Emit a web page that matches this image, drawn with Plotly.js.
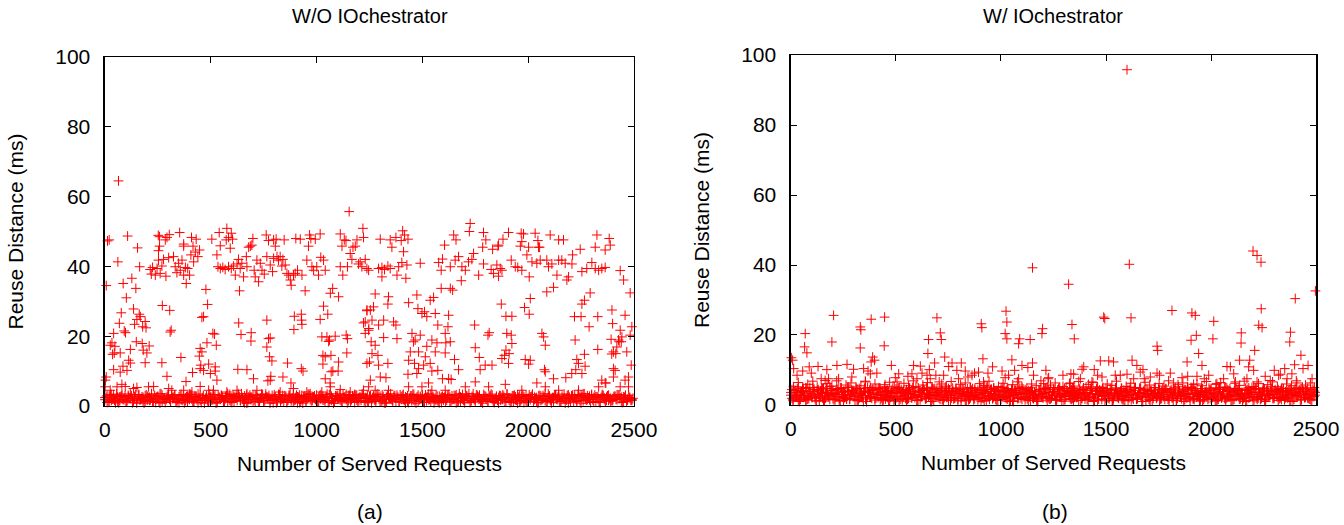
<!DOCTYPE html>
<html><head><meta charset="utf-8">
<script src="https://cdn.plot.ly/plotly-3.0.1.min.js"></script>
<style>html,body{margin:0;padding:0;background:#fff}#chart{width:1344px;height:525px}</style>
</head><body><div id="chart"></div>
<script>
// ---- tick labels / titles ----
const xTicks = [0, 500, 1000, 1500, 2000, 2500];
const yTicks = [0, 20, 40, 60, 80, 100];
const titleA = "W/O IOchestrator";
const titleB = "W/ IOchestrator";
const xLabel = "Number of Served Requests";
const yLabel = "Reuse Distance (ms)";

// ---- dense band request indices ----
const bandX1 = [0,10,20,30,40,50,60,70,80,90,100,110,120,130,140,150,160,170,180,190,200,210,220,230,240,
250,260,270,280,290,300,310,320,330,340,350,360,370,380,390,400,410,420,430,440,450,460,470,480,490,
500,510,520,530,540,550,560,570,580,590,600,610,620,630,640,650,660,670,680,690,700,710,720,730,740,
750,760,770,780,790,800,810,820,830,840,850,860,870,880,890,900,910,920,930,940,950,960,970,980,990,
1000,1010,1020,1030,1040,1050,1060,1070,1080,1090,1100,1110,1120,1130,1140,1150,1160,1170,1180,1190,1200,1210,1220,1230,1240,
1250,1260,1270,1280,1290,1300,1310,1320,1330,1340,1350,1360,1370,1380,1390,1400,1410,1420,1430,1440,1450,1460,1470,1480,1490,
1500,1510,1520,1530,1540,1550,1560,1570,1580,1590,1600,1610,1620,1630,1640,1650,1660,1670,1680,1690,1700,1710,1720,1730,1740,
1750,1760,1770,1780,1790,1800,1810,1820,1830,1840,1850,1860,1870,1880,1890,1900,1910,1920,1930,1940,1950,1960,1970,1980,1990,
2000,2010,2020,2030,2040,2050,2060,2070,2080,2090,2100,2110,2120,2130,2140,2150,2160,2170,2180,2190,2200,2210,2220,2230,2240,
2250,2260,2270,2280,2290,2300,2310,2320,2330,2340,2350,2360,2370,2380,2390,2400,2410,2420,2430,2440,2450,2460,2470,2480,2490];
const bandX2 = [5,15,25,35,45,55,65,75,85,95,105,115,125,135,145,155,165,175,185,195,205,215,225,235,245,
255,265,275,285,295,305,315,325,335,345,355,365,375,385,395,405,415,425,435,445,455,465,475,485,495,
505,515,525,535,545,555,565,575,585,595,605,615,625,635,645,655,665,675,685,695,705,715,725,735,745,
755,765,775,785,795,805,815,825,835,845,855,865,875,885,895,905,915,925,935,945,955,965,975,985,995,
1005,1015,1025,1035,1045,1055,1065,1075,1085,1095,1105,1115,1125,1135,1145,1155,1165,1175,1185,1195,1205,1215,1225,1235,1245,
1255,1265,1275,1285,1295,1305,1315,1325,1335,1345,1355,1365,1375,1385,1395,1405,1415,1425,1435,1445,1455,1465,1475,1485,1495,
1505,1515,1525,1535,1545,1555,1565,1575,1585,1595,1605,1615,1625,1635,1645,1655,1665,1675,1685,1695,1705,1715,1725,1735,1745,
1755,1765,1775,1785,1795,1805,1815,1825,1835,1845,1855,1865,1875,1885,1895,1905,1915,1925,1935,1945,1955,1965,1975,1985,1995,
2005,2015,2025,2035,2045,2055,2065,2075,2085,2095,2105,2115,2125,2135,2145,2155,2165,2175,2185,2195,2205,2215,2225,2235,2245,
2255,2265,2275,2285,2295,2305,2315,2325,2335,2345,2355,2365,2375,2385,2395,2405,2415,2425,2435,2445,2455,2465,2475,2485,2495];

// ---- (a) dense band values (ms) ----
const leftBandA = [1.8,2.9,1.2,3.3,2.1,0.9,2.6,1.5,3.0,2.3,1.1,2.7,3.4,1.7,2.2,0.8,3.1,1.9,2.5,1.3,
2.8,1.6,3.2,2.0,1.0,2.6,3.5,1.4,2.3,1.9,3.0,1.2,2.4,2.9,1.7,0.9,3.3,2.1,1.5,2.7,
1.9,3.1,1.1,2.5,3.4,1.6,2.2,0.8,2.9,1.4,2.6,1.8,3.2,1.0,2.3,3.0,1.5,2.7,1.2,3.3,
2.0,1.3,2.8,3.5,1.7,2.4,0.9,3.1,1.9,2.6,1.4,3.0,2.2,1.1,2.9,1.6,3.4,2.5,0.8,2.1,
3.2,1.8,2.6,1.3,3.0,2.3,1.0,2.8,1.5,3.3,2.4,0.9,3.1,1.9,2.7,1.2,2.2,3.5,1.6,2.9,
1.1,2.5,3.2,1.7,2.0,3.4,1.4,2.8,0.8,2.3,3.0,1.9,1.2,2.6,3.3,1.5,2.1,2.9,1.0,3.1,
2.2,1.6,3.4,2.4,1.3,2.8,0.9,3.0,1.8,2.5,1.4,3.2,2.0,1.1,2.7,3.5,1.7,2.3,3.1,1.2,
2.6,1.9,0.8,2.9,2.2,1.5,3.3,2.0,1.3,2.7,3.1,1.0,2.4,1.8,3.4,2.1,1.6,2.8,0.9,2.5,
1.7,3.0,2.3,1.2,2.9,1.9,3.2,1.4,2.6,2.0,0.9,2.7,3.5,1.6,2.2,1.1,3.0,2.4,1.8,3.3,
2.1,1.3,2.8,3.1,1.5,2.5,0.8,2.9,1.9,2.3,3.4,1.7,2.0,1.2,2.6,3.2,1.4,2.7,1.0,3.0,
2.2,1.8,3.3,2.5,1.1,2.9,1.6,2.1,3.5,1.3,2.7,0.9,2.4,3.1,1.9,1.4,2.8,2.2,1.7,3.2,
1.2,2.6,3.0,1.5,2.3,0.8,3.4,2.0,2.9,1.8,3.1,2.4,1.3,2.7,1.0,3.3,1.9,2.5,1.6,2.2,
1.5,2.8,3.2,2.1,1.1,2.6,3.0,1.7,2.4,1.9];
const leftBandB = [2.5,1.3,3.1,2.0,1.6,3.4,0.9,2.7,1.9,3.0,1.5,2.3,2.9,1.1,3.3,2.1,1.7,2.6,0.8,3.2,
2.4,1.8,1.2,3.0,2.6,1.4,3.5,2.2,1.0,2.8,1.9,3.2,2.5,1.3,2.0,3.1,1.6,0.9,2.7,2.3,
3.3,1.2,2.8,1.8,2.4,1.0,3.0,2.1,1.5,3.4,1.7,2.6,0.8,3.2,1.9,2.5,1.3,2.9,2.2,1.1,
3.0,2.3,1.6,2.7,3.5,1.4,2.0,1.0,3.1,2.4,1.8,2.9,1.2,2.2,3.3,1.5,2.6,3.0,1.9,0.9,
2.7,1.4,3.2,2.0,1.1,2.8,1.7,3.4,2.3,1.6,3.1,2.5,1.3,0.8,2.9,2.1,3.3,1.5,2.6,1.9,
1.2,3.0,2.4,1.7,2.7,1.0,3.5,2.2,1.4,2.8,2.0,1.6,3.2,2.5,0.9,3.0,1.8,2.3,3.1,1.3,
2.6,3.4,1.5,2.1,1.1,2.9,2.4,1.7,3.3,2.0,1.4,2.7,0.8,3.1,2.2,1.9,2.8,1.2,2.5,3.2,
3.0,1.6,2.3,1.0,2.9,3.4,1.5,2.6,1.8,2.1,1.1,3.2,2.7,1.9,2.4,0.9,3.0,1.3,2.2,2.8,
2.5,1.7,3.3,1.4,2.0,2.9,1.1,3.5,2.3,1.6,3.1,2.2,1.0,2.7,1.8,3.2,2.5,1.4,0.8,2.9,
1.9,2.6,3.4,1.2,2.1,1.6,3.0,2.4,2.8,1.3,2.3,1.0,2.9,3.1,1.7,2.5,1.5,3.3,2.0,1.1,
3.2,2.7,1.4,2.2,0.9,3.0,1.8,2.6,1.2,3.4,1.6,2.4,3.1,1.9,2.8,1.3,2.2,0.8,3.0,2.5,
2.9,1.1,2.0,3.3,1.5,2.7,3.5,1.7,2.3,1.0,1.8,3.1,2.6,1.2,2.4,3.0,1.4,2.9,2.1,1.6,
2.7,1.9,3.2,2.3,1.0,2.5,1.3,3.1,1.7,2.2];
const leftBandC = [2.4,1.0,2.8,1.6,3.2,2.0,1.3,2.6,3.4,1.8,1.2,3.0,2.2,0.9,2.7,1.5,3.3,2.1,1.1,2.9,
1.7,2.5,3.5,1.3,2.0,2.8,0.8,3.1,1.9,2.4,2.9,1.4,2.1,3.2,1.0,2.6,1.8,3.0,2.3,1.2,
3.4,2.0,1.5,2.7,0.9,3.1,2.4,1.6,2.8,1.1,2.2,3.3,1.9,1.2,2.5,3.0,1.4,2.1,3.5,1.7,
1.0,2.7,2.3,3.1,1.5,2.0,2.9,0.8,2.6,1.8,3.2,1.3,2.4,1.9,3.4,1.1,2.8,2.2,1.6,3.0,
2.5,0.9,3.3,1.7,2.1,2.9,1.4,3.1,2.0,1.2,1.8,2.6,1.0,3.0,2.4,1.5,3.4,1.9,2.7,2.2,
3.1,1.3,2.0,2.8,1.1,2.5,3.2,1.6,0.8,2.9,2.1,3.5,1.4,2.3,1.9,3.0,1.2,2.6,3.3,1.7,
1.5,2.2,2.9,1.0,3.1,2.4,1.8,2.7,1.3,3.4,2.8,1.6,0.9,2.5,3.2,2.0,1.4,3.0,2.3,1.1,
1.9,3.3,2.6,1.2,2.1,2.9,1.7,0.8,3.1,2.4,3.0,2.2,1.5,3.4,1.3,2.7,2.0,1.6,2.8,1.0,
2.3,1.1,3.2,2.5,1.8,3.0,0.9,2.4,1.4,3.3,1.6,2.9,2.1,1.2,3.5,1.9,2.6,3.1,1.3,2.2,
2.7,1.5,3.0,2.0,1.0,2.8,2.4,1.7,3.2,1.1,3.4,2.3,1.4,2.9,1.8,0.8,3.1,2.2,2.6,1.5,
1.2,2.6,3.3,1.9,2.4,1.0,2.8,3.0,1.6,2.1,2.9,1.8,1.1,3.2,2.5,1.4,2.0,3.4,2.3,0.9,
1.7,3.1,2.2,1.3,2.7,3.0,1.5,2.4,1.9,2.8,3.3,1.2,2.6,2.0,1.0,2.9,2.3,1.6,3.1,1.4,
2.1,2.7,1.8,3.2,2.5,1.1,3.0,1.9,2.4,1.6];

// ---- (b) dense band values (ms) ----
const rightBandA = [2.8,1.5,4.2,3.1,1.0,3.8,2.2,4.9,1.7,3.4,2.5,4.5,1.2,3.0,4.0,2.0,1.4,3.6,2.7,4.7,
1.8,3.3,4.4,1.1,2.9,3.9,2.3,5.0,1.6,3.2,4.1,2.6,1.3,3.7,2.1,4.8,1.0,3.5,2.4,4.3,
1.9,3.0,4.6,2.7,1.5,3.9,2.2,1.2,4.2,3.3,2.0,4.9,1.7,3.6,2.8,1.1,4.4,3.1,2.5,4.0,
1.4,3.8,2.3,4.7,1.8,3.2,2.9,1.0,4.5,2.6,3.5,1.6,4.1,2.1,3.9,1.3,2.7,4.8,2.0,3.4,
4.3,1.9,3.0,1.2,4.6,2.4,3.7,1.5,2.9,4.2,2.2,3.6,1.1,4.9,2.6,3.3,1.8,4.0,1.4,3.1,
4.5,2.3,3.8,1.7,2.8,4.4,1.0,3.5,2.1,4.7,1.6,3.2,2.5,4.1,1.3,3.9,2.7,1.9,4.3,3.0,
2.4,4.8,1.2,3.6,2.0,4.5,1.5,3.3,2.8,1.1,4.2,2.6,3.7,1.8,4.9,2.2,3.1,1.4,4.0,2.9,
1.7,3.5,2.3,4.6,1.0,3.8,2.5,4.3,1.6,3.2,4.7,2.0,3.4,1.3,2.7,4.1,1.9,3.9,2.4,1.2,
3.6,4.4,1.5,2.9,3.1,1.8,4.8,2.2,3.7,1.1,2.6,4.0,1.4,3.3,2.1,4.5,1.7,3.0,4.2,2.5,
1.3,3.8,2.8,4.9,1.9,3.5,2.4,1.0,4.3,3.2,2.0,4.6,1.6,3.1,2.7,4.1,1.2,3.6,2.3,4.8,
1.8,3.4,2.9,1.5,4.4,2.2,3.9,1.1,2.6,4.0,3.0,1.7,4.7,2.4,3.3,1.4,2.8,4.2,2.0,3.7,
1.2,4.5,2.5,3.5,1.9,4.9,1.6,3.1,2.7,4.3,2.1,3.8,1.3,4.1,2.9,1.8,3.4,2.3,4.6,1.0,
3.2,2.6,4.4,1.5,3.9,2.2,4.8,1.7,3.0,2.4];
const rightBandB = [1.9,4.1,2.7,1.2,3.6,4.8,2.3,1.5,3.9,2.6,4.4,1.8,3.1,2.2,4.9,1.1,3.4,2.8,1.6,4.2,
3.0,2.4,4.7,1.3,3.7,2.1,1.7,4.0,2.9,3.5,1.4,4.5,2.0,3.2,1.0,3.8,2.6,4.3,1.9,3.0,
4.6,2.2,1.5,3.9,2.8,4.1,1.2,3.4,2.5,1.8,3.7,1.1,4.4,2.6,3.3,1.6,4.9,2.1,3.8,2.9,
1.3,3.5,2.4,4.2,1.9,3.0,1.0,4.6,2.7,3.6,2.0,4.8,1.5,3.1,2.3,4.0,3.4,1.7,2.8,1.2,
4.3,2.5,3.9,1.4,3.2,2.1,4.7,1.8,3.6,2.9,1.1,4.1,2.6,3.3,1.6,4.5,2.2,3.8,1.3,3.0,
2.4,4.9,1.9,3.5,2.7,1.2,4.2,3.1,2.0,3.7,4.6,1.5,3.4,2.3,4.0,1.8,2.9,1.0,3.9,2.5,
3.2,2.1,4.4,1.7,3.6,2.8,1.3,4.8,2.2,3.3,1.6,3.9,2.6,4.3,1.1,3.0,2.4,4.6,1.9,3.5,
2.8,1.4,4.1,3.2,2.0,4.7,1.7,3.7,2.5,1.2,4.0,2.9,3.4,1.5,4.5,2.3,3.1,1.8,4.2,2.7,
1.3,3.8,2.1,4.9,1.6,3.3,2.6,1.0,4.4,3.0,2.2,4.1,1.9,3.6,2.8,1.4,3.9,2.4,4.7,1.7,
3.5,2.0,4.3,1.2,3.2,2.7,4.6,1.5,3.0,2.3,4.8,1.8,3.7,2.5,1.1,4.0,2.9,3.4,1.6,4.2,
2.1,3.1,1.3,4.5,2.6,3.8,1.9,4.9,2.4,1.4,3.6,2.8,4.1,1.7,3.3,2.2,1.0,4.4,3.0,2.5,
1.5,4.7,2.0,3.5,2.9,1.2,4.2,2.6,3.9,1.8,4.3,2.3,3.1,1.6,4.6,2.1,3.7,1.1,2.8,4.0,
2.7,3.4,1.4,4.8,2.2,3.0,1.9,4.5,2.5,3.6];
const rightBandC = [3.6,1.2,2.5,4.6,1.9,3.1,4.2,1.4,2.8,5.0,2.1,3.8,1.1,4.4,2.6,3.3,1.7,4.8,2.3,3.0,
4.1,1.5,3.5,2.0,4.7,1.3,2.9,3.9,1.8,4.3,2.4,5.1,1.6,3.2,2.7,4.0,1.0,3.7,2.2,4.5,
1.4,3.4,4.9,2.0,3.0,1.7,4.2,2.6,3.6,1.2,4.6,2.3,3.9,1.5,2.8,4.4,1.9,3.2,5.0,2.1,
1.3,3.7,2.5,4.1,1.8,3.4,2.9,4.8,1.1,3.0,2.6,4.3,1.6,3.5,2.2,4.7,1.4,3.8,2.0,4.0,
3.3,1.2,4.5,2.7,3.1,1.7,4.2,2.4,3.6,1.5,4.9,2.0,3.3,1.3,2.8,4.4,1.9,3.0,4.1,2.5,
1.6,3.9,2.2,4.6,1.0,3.5,2.7,4.2,1.8,3.1,4.8,2.3,3.4,1.4,4.0,2.1,3.7,1.2,2.9,4.5,
2.0,3.2,5.1,1.7,2.6,3.9,1.5,4.3,2.4,3.0,1.1,4.7,2.8,3.6,1.9,4.1,2.2,3.3,1.3,4.4,
3.5,1.6,2.5,4.9,2.0,3.1,1.4,3.8,2.7,4.2,1.8,3.4,4.6,1.2,2.9,3.7,2.3,4.0,1.5,3.2,
4.5,2.1,3.0,1.7,4.8,2.6,3.5,1.0,4.1,2.4,3.9,1.3,2.8,4.3,1.9,3.3,2.2,4.7,1.6,3.6,
2.0,4.4,1.4,3.1,2.7,4.0,1.8,3.8,2.5,5.0,1.2,3.4,4.2,2.3,3.0,1.5,4.6,2.1,3.7,1.9,
4.1,2.6,1.1,3.5,4.9,2.0,3.2,1.7,4.3,2.8,1.4,3.9,2.4,4.5,1.8,3.3,2.9,1.3,4.0,3.6,
2.2,4.7,1.6,3.0,2.5,4.2,1.0,3.4,2.7,4.8,1.9,3.1,4.4,2.1,3.7,1.5,2.6,4.1,1.2,3.5,
4.6,2.3,3.8,1.7,2.9,4.3,2.0,3.2,1.4,4.0];
const rightBandD = [4.4,2.2,3.5,5.2,1.6,3.9,2.7,4.8,1.9,3.2,5.0,2.5,4.1,1.3,3.6,4.6,2.0,3.3,5.3,2.8,
1.5,4.3,3.0,4.9,2.3,3.7,1.8,5.1,2.6,4.0,3.4,1.2,4.7,2.9,3.8,1.7,5.0,2.4,4.2,3.1,
2.0,4.5,3.6,1.4,5.2,2.7,3.9,2.2,4.8,1.6,3.3,5.0,2.5,4.1,1.9,3.7,4.6,2.1,3.0,5.3,
2.8,1.5,4.4,3.2,4.9,2.3,3.5,1.8,4.7,2.6,4.0,3.1,1.3,5.1,2.9,4.3,2.0,3.8,4.6,1.7,
3.4,4.8,2.4,3.6,1.5,5.0,2.7,4.2,3.0,2.1,4.5,1.9,3.9,5.2,2.5,3.3,4.7,1.6,3.7,2.8,
5.0,2.2,4.1,3.4,1.4,4.6,2.9,3.6,5.1,2.0,3.1,4.4,1.8,3.8,4.9,2.6,3.2,1.5,4.3,2.3,
4.7,3.5,2.1,5.0,2.8,3.9,1.7,4.5,3.0,5.3,2.4,4.0,3.3,1.6,4.8,2.7,3.6,4.2,1.9,3.4,
5.2,2.2,4.6,3.1,1.3,4.1,2.9,3.8,5.0,2.5,3.7,1.8,4.4,2.0,4.9,3.2,2.6,4.7,1.5,3.9,
2.3,5.1,3.0,4.2,1.7,3.5,4.8,2.1,3.3,4.5,1.6,3.8,2.8,5.0,2.4,4.3,1.9,3.6,4.6,2.9,
4.0,2.2,3.4,1.4,5.2,2.7,3.9,4.4,2.0,3.1,5.0,1.8,4.1,3.5,2.5,4.7,1.6,3.7,2.9,4.3,
2.3,3.2,4.9,1.7,3.8,2.6,5.1,2.1,4.0,3.4,1.5,4.5,3.0,4.2,2.8,1.9,4.8,3.3,2.4,5.0,
3.6,2.0,4.4,1.6,3.9,4.6,2.7,3.1,5.2,2.2,4.1,3.5,1.8,4.7,2.5,3.8,2.0,4.3,3.0,1.7,
4.9,2.6,3.4,5.1,2.1,4.0,3.7,1.5,4.5,2.8];

// ---- (b) layer just above the band: [request, ms] ----
const rightMidPts = [[12,5.2],[35,6.4],[58,4.8],[80,5.9],[104,6.8],[125,5.1],[150,4.6],[172,6.1],[195,5.4],[218,6.9],
[240,4.9],[262,5.7],[286,6.3],[310,4.7],[333,5.5],[355,6.6],[378,5.0],[400,6.0],[425,4.8],[448,5.8],[470,6.5],[492,5.2],
[515,4.6],[538,6.2],[560,5.5],[583,6.9],[606,4.9],[628,5.7],[650,6.4],[673,5.1],[695,4.7],[718,6.0],[740,5.4],[763,6.7],
[786,4.8],[808,5.9],[830,6.3],[853,5.0],[876,4.6],[898,6.1],[920,5.6],[943,6.8],[966,4.9],[988,5.3],[1010,6.2],[1033,4.7],
[1056,5.8],[1078,6.6],[1100,5.1],[1123,4.8],[1146,6.0],[1168,5.5],[1190,6.9],[1213,4.6],[1236,5.7],[1258,6.3],[1280,5.0],
[1303,4.7],[1326,6.1],[1348,5.4],[1370,6.7],[1393,4.9],[1416,5.9],[1438,6.4],[1460,5.2],[1483,4.6],[1506,6.0],[1528,5.6],
[1550,6.8],[1573,4.8],[1596,5.3],[1618,6.2],[1640,5.0],[1663,4.7],[1686,6.5],[1708,5.7],[1730,4.9],[1753,6.1],[1776,5.4],
[1798,6.9],[1820,4.6],[1843,5.8],[1866,6.3],[1888,5.1],[1910,4.8],[1933,6.0],[1956,5.5],[1978,6.7],[2000,4.7],[2023,5.9],
[2046,6.4],[2068,5.0],[2090,4.6],[2113,6.2],[2136,5.6],[2158,6.8],[2180,4.9],[2203,5.3],[2226,6.1],[2248,4.7],[2270,5.8],
[2293,6.6],[2316,5.2],[2338,4.8],[2360,6.0],[2383,5.5],[2406,6.9],[2428,4.6],[2450,5.7],[2473,6.3],[2492,5.0]];

// ---- (a) scattered points: [request, ms] ----
const leftPts = [[64,64.5],[1154,55.7],[20,47.6],[12,47.3],[107,48.7],[353,49.7],[252,48.9],[258,48.5],[285,47.6],[293,48.3],
[304,49.1],[154,45.3],[61,41.3],[164,39.9],[6,34.5],[86,35.1],[127,36.6],[146,33.7],[101,31],[77,26.7],[135,27.8],[68,23.7],
[91,21.5],[97,21],[41,20.8],[33,18.1],[25,17.4],[162,26.3],[167,25.6],[140,23.4],[151,24.8],[190,24.2],[194,22.4],[178,22.7],
[148,18.4],[176,17.9],[209,17.2],[198,15.2],[181,16],[47,17.1],[36,14.8],[44,15.2],[72,15.2],[120,16.2],[112,13.1],[120,12.3],
[41,10.4],[85,11.4],[72,9.7],[104,10.2],[190,12.4],[6,8.3],[2,7.4],[271,28.8],[306,27.4],[313,21.7],[308,21.2],[269,12.4],
[293,8.5],[359,13.9],[383,7],[414,9.6],[450,16.5],[446,14.3],[458,15.5],[482,18.1],[510,20.8],[518,20.6],[526,17.4],[453,11.7],
[450,10.7],[466,10.2],[490,12],[498,9.3],[521,11.2],[521,10],[529,7.4],[458,25.4],[466,25.6],[477,33.4],[485,29.1],[384,35.1],
[632,23.8],[643,20.5],[691,21],[690,18.6],[636,33],[628,10.5],[671,10.4],[702,7.8],[765,24.6],[773,19.3],[781,19.5],[765,16.9],
[778,14.1],[789,12.9],[770,7.2],[784,8.5],[841,8.3],[863,12.3],[879,6.6],[895,25.7],[928,26.3],[929,24.6],[931,23.4],[893,21.9],
[928,10.7],[936,10],[1017,24.8],[1033,28.6],[1053,26.3],[1065,32.3],[1076,33.7],[1104,31.3],[1025,19.8],[1049,19.8],[1057,18.5],
[1061,18.9],[1088,20],[1140,20.3],[1146,19.3],[1030,14.5],[1041,14.1],[1068,14.5],[1030,12],[1069,9.8],[1077,10],[1102,10],
[1041,7.8],[1064,6.6],[1143,15.2],[1104,12.6],[1238,27.5],[1247,22.2],[1222,23.8],[1230,20.8],[1250,12.6],
[214,39.1],[225,39.7],[219,37.8],[238,37.5],[246,39.4],[253,41.8],[261,38],[269,40.1],[277,42],[288,37.2],[301,42.5],[324,42.8],
[332,39.9],[340,38.2],[348,40.9],[356,38.9],[364,41.8],[372,37.5],[380,39.7],[391,39.4],[400,37.5],[406,43.3],[419,41.3],[427,44.1],
[439,42.8],[447,44.7],[253,44.5],[258,45.8],[372,45.8],[416,45.8],[431,47.8],[409,48.3],[372,46.4],[505,47.8],[529,43.3],[540,49.7],
[545,45.9],[576,50.9],[573,47.6],[584,48.3],[592,45.2],[603,47.8],[597,49.5],
[534,39.9],[545,39.4],[557,39.7],[568,39.1],[584,39.9],[597,39.4],[608,40.1],[616,37.5],[624,40.7],[631,42],[639,39.4],[647,40.9],
[655,37],[668,42.8],[671,39.9],[679,45.5],[687,45.8],[694,46.1],[699,48],[705,38.9],[710,37],[718,41.8],[726,35.6],[734,40.9],
[742,38.9],[753,37.8],[762,49],[765,42.8],[773,47.4],[781,40.4],[792,38.5],[797,47.6],[805,45.8],[809,47.8],[797,42.3],[813,42.8],
[820,41.8],[828,42.8],[836,40.1],[841,42],[847,47.6],[852,40.4],[860,38],[868,37.5],[876,36.1],[880,34.6],[891,37.5],[899,38],
[902,48],[910,38.9],[923,47.8],[931,37.5],[946,33],[954,41.8],[962,45.8],[967,49],[973,48],[978,39.9],[986,38.9],[994,47.8],
[1001,39.9],[1009,37.5],[1017,49.3],[1020,42.6],[1033,41.8],[1041,38.9],
[1112,49.3],[1120,45.8],[1131,47.6],[1139,47.4],[1146,39.9],[1159,43.7],[1167,42],[1172,45.5],[1183,45.8],[1191,47.6],[1198,40.7],
[1206,41.3],[1214,39.9],[1219,50.9],[1222,48.3],[1230,42],[1238,39.4],[1246,38.9],[1112,39.9],[1124,37.5],
[1726,52.3],[1722,50],[1648,49],[1659,47.6],[1605,46.1],[1407,50.2],[1416,49],[1301,47.8],[1348,47.6],[1356,45.5],[1375,48.3],
[1400,47.4],[1432,47.8],[1411,44.2],[1789,49.7],[1800,47.6],[1860,46.1],[1881,47.8],[1907,49.7],[1967,49.5],[1978,49.3],[1970,47.1],
[2033,49.5],[2046,47.4],[2049,45.5],[2104,49],[2144,47.6],[2167,47.6],[2325,49],[2317,45.5],[2364,44.7],[2383,48],[2388,46.1],
[2246,44.9],[1785,45.5],[1832,44.9],[1857,45.8],[1963,45.8],[2002,45.5],[2054,45.5],
[1293,39.4],[1309,39.7],[1321,39.1],[1337,40.1],[1348,39.4],[1388,39.9],[1403,41.1],[1427,40.4],[1380,37.5],[1309,37],[1422,36.6],
[1490,40.9],[1577,41.1],[1589,38.9],[1595,42.1],[1632,39.9],[1655,41.8],[1671,42.8],[1687,39.9],[1703,38.9],[1718,41.3],[1734,42],
[1742,43.7],[1684,35.9],[1766,37.5],[1789,40.7],[1825,39.1],[1836,38],[1852,40.4],[1860,37.2],[1868,39.4],[1876,38.9],[1920,41.8],
[1939,39.9],[1951,39.7],[1970,38.9],[1994,43.3],[2005,37],[2018,41.3],[2041,40.9],[2057,41.8],[2088,41.8],[2096,39.9],[2112,40.7],
[2136,37.5],[2144,41.8],[2159,41.8],[2175,40.9],[2183,36.1],[2191,37],[2207,40.7],[2210,43.3],[2254,38.5],[2277,39.4],[2301,41.1],
[2317,39.4],[2333,38.9],[2348,39.4],[2364,39.7],[1589,33.7],[1632,33.7],[1643,33.2],
[2435,38.8],[2451,36.1],[2482,32.4],[2088,32.7],[2120,34],[2293,32.4],[2254,29.2],[2266,30.3],[2396,27.5],[2399,23.6],[2458,26],
[2435,21.7],[2443,19.8],[2427,18.9],[2440,18.4],[2414,15],[2482,20.3],[2490,22.7],[2466,15.5],[2403,10.7],[2411,10.2],[2487,11.7],
[2474,8.3],[2458,7.4],
[1277,32.1],[1340,31.3],[1337,29.2],[1238,27.3],[1254,27.5],[1269,28.4],[1230,24.1],[1246,21.7],[1262,24.6],[1293,23.2],[1317,24.6],
[1364,24.1],[1375,23.2],[1258,18.4],[1277,17.4],[1262,15],[1290,14.5],[1317,19.6],[1380,19.3],[1238,12.2],[1293,11.7],[1337,12.2],
[1254,7.4],[1301,8.3],[1328,8.1],
[1435,29.6],[1474,31.8],[1479,27.9],[1498,26.5],[1510,27],[1521,25.6],[1537,30.3],[1553,31.1],[1561,26.5],[1573,23.2],[1624,26],
[1621,22.7],[1451,20.8],[1466,18.9],[1490,20.3],[1482,15.5],[1458,18.4],[1443,15.5],[1521,17.1],[1545,18.9],[1569,18.1],[1561,15.5],
[1608,20.8],[1611,18.1],[1632,18.4],[1608,15.2],[1435,13.1],[1463,12.2],[1482,10.7],[1506,11.7],[1514,14.1],[1537,12.2],[1545,10],
[1573,10.2],[1474,9.3],[1432,9.1],[1595,7.8],[1624,7.8],[1636,7.6],[1652,13.3],[1671,10.4],
[1747,23.2],[1816,21],[1810,20.3],[1750,16.7],[1769,13.9],[1773,10.4],[1797,11.7],[1829,11.7],[1876,13.6],[1895,16],[1899,20.8],
[1920,20.3],[1923,17.9],[1910,15],[1907,12.2],[1888,14.5],[1873,29.2],[1895,25.7],[1923,25.7],[1983,28.2],[2010,30.8],[2005,26.3],
[1986,13.3],[2010,13.1],[2002,12],[2065,20.8],[2073,19.8],[2081,17.4],[2077,10.4],[2081,9.8],[2120,7.8],[2178,8.1],[2206,9.3],
[2222,18.9],[2219,25.6],[2250,25.6],[2288,22.7],[2329,25.6],[2230,13.3],[2238,12.2],[2266,14.8],[2269,11.4],[2254,9.3],[2225,10.4],
[2329,16.2],[2392,19.1],[2395,14.9],[2403,15.5],[2419,16.9],[2430,18.4],[2367,6.6],[2403,8.3],[2348,7.4],
[1,5.5],[25,4.5],[57,5.5],[80,6.2],[96,5.6],[135,5],[151,5.3],[206,5.5],[230,5.6],[301,5],[316,4.5],[372,4.5],[411,4],[450,5.6],
[490,4.5],[513,4.5],[576,4],[624,4.5],[671,3.5],[718,4.5],[781,7.4],[828,4],[891,5],[954,4],[1025,4],[1065,5.5],[1112,4.7],
[1159,4],[1222,4.5],[1246,5.5],[1277,4.5],[1340,4.5],[1435,5.5],[1498,5.5],[1529,6.6],[1545,4.5],[1608,4.5],[1703,5.5],[1750,6.9],
[1813,5.5],[1892,6.2],[1970,4.5],[2041,6.6],[2081,5.5],[2144,4.5],[2238,4.5],[2333,5.5],[2364,6.6],[2435,5.5],[2474,5.5]];

// ---- (b) scattered points: [request, ms] ----
const rightPts = [[1600,95.8],[1150,39.2],[203,25.6],[195,18],[68,20.4],[65,16.6],[76,14.9],[2,13.5],[8,12.8],[330,22.3],
[333,21.5],[330,16.3],[382,24.5],[446,25.1],[444,16.9],[389,13.7],[398,12.8],[382,12.3],[655,18.7],[652,14.7],[659,10.1],
[695,24.9],[711,20.6],[716,18.7],[684,12],[732,13.7],[906,23.2],[909,22.1],[914,13.2],[1024,26.8],[1028,23.7],[1020,20.4],
[1028,18.9],[1052,12.9],[1089,18.9],[1084,17.5],[1139,18.7],[1150,12],[1198,21.8],[1195,20.4],[1214,9.9],[1227,7.8],
[13,10.4],[29,8.5],[56,9.7],[87,10.9],[97,9.1],[129,11],[144,7.5],[163,7],[179,7.5],[171,10.1],[219,11.3],[227,7.5],[267,11.6],
[298,10.2],[290,8],[346,10.4],[367,9.7],[378,8.9],[409,9.1],[354,6.8],[478,11.3],[497,7.8],[513,8.9],[505,6.6],[557,8.2],
[576,8.9],[584,11.3],[616,11.1],[600,7.5],[624,9.1],[648,8.5],[663,7.5],[690,8.5],[706,6.6],[727,8.5],[751,11],[767,12],
[790,9.9],[811,12],[798,7.5],[830,9.7],[843,8],[862,8.5],[874,9.1],[893,9.4],[917,6.6],[938,9.1],[960,10.9],[1005,9.7],
[1020,7.8],[1036,8.5],[1065,9.9],[1084,7.5],[1100,11.3],[1128,10.7],[1155,8.5],[1203,6.1],[1224,7.5],
[1322,34.5],[1611,40.2],[1338,23],[1349,18.9],[1489,25.1],[1494,24.7],[1619,24.9],[1814,27],[1909,26.3],[1925,25.6],[1930,19.9],
[1905,18.5],[1941,14.7],[1957,11.3],[2013,23.9],[2009,18.9],[1743,16.8],[1746,15.6],[2200,44],[2219,42.7],[2238,40.8],[2239,27.5],
[2227,22.8],[2243,22.1],[2144,20.6],[2143,17.7],[2208,15.6],[2184,12.8],[2401,30.4],[2378,20.8],[2375,18],[2428,14.2],[2398,11.5],
[2497,32.6],[1473,12.6],[1513,12.6],[1536,12.3],[1624,12.8],[1647,11.3],[1676,10.1],[1394,10.9],[1386,10.2],[1444,10.1],[1886,12.3],
[2092,10.9],[2136,12.8],[2179,10.9],[2351,10.4],[2462,11.3],
[1295,8.5],[1333,8.9],[1346,8.8],[1330,6.3],[1378,7.5],[1433,6.6],[1460,8.5],[1481,8],[1544,8.5],[1568,8.5],[1600,8.8],[1632,7.5],
[1663,9.4],[1682,7.5],[1711,8],[1743,9.1],[1755,8.5],[1806,9.1],[1822,6.3],[1862,7.8],[1889,8.2],[1917,5.9],[1933,8.2],[1968,7.5],
[1989,8.5],[2028,6.1],[2060,7.5],[2076,11],[2108,8.9],[2116,6.6],[2171,7.5],[2203,9.9],[2219,6.6],[2258,8.2],[2282,7],[2301,9.9],
[2322,8.5],[2330,8.8],[2362,7.5],[2385,8.9],[2409,6.3],[2438,10.4],[2481,7.5]];

// ---------------- drawing ----------------
const RED = '#ff0000';
const FONT = 'Liberation Sans, Arial, Helvetica, sans-serif';
const mk = {symbol: 'cross-thin', size: 7, color: RED, line: {color: RED, width: 1}};
function tr(x, y, xa, ya) {
  return {type: 'scatter', mode: 'markers', x: x, y: y, xaxis: xa, yaxis: ya,
          marker: mk, showlegend: false, hoverinfo: 'x+y', cliponaxis: false};
}
const px = p => p.map(d => d[0]);
const py = p => p.map(d => d[1]);

const data = [
  tr(bandX1, leftBandA, 'x', 'y'),
  tr(bandX2, leftBandB, 'x', 'y'),
  tr(bandX1, leftBandC, 'x', 'y'),
  tr(px(leftPts), py(leftPts), 'x', 'y'),
  tr(bandX1, rightBandA, 'x2', 'y2'),
  tr(bandX2, rightBandB, 'x2', 'y2'),
  tr(bandX1, rightBandC, 'x2', 'y2'),
  tr(bandX2, rightBandD, 'x2', 'y2'),
  tr(px(rightMidPts), py(rightMidPts), 'x2', 'y2'),
  tr(px(rightPts), py(rightPts), 'x2', 'y2')
];

function xax(dom, anchor) {
  return {domain: dom, anchor: anchor, range: [0, 2500], tickvals: xTicks, ticktext: xTicks.map(String),
    ticks: 'inside', ticklen: 6, tickwidth: 1, tickcolor: '#000', showline: true, linecolor: '#000', linewidth: 1.5,
    mirror: 'ticks', showgrid: false, zeroline: false, automargin: false, ticklabelstandoff: 4,
    tickfont: {family: FONT, size: 21, color: '#000'},
    title: {text: xLabel, font: {family: FONT, size: 21, color: '#000'}, standoff: 16}};
}
function yax(dom, anchor) {
  return {domain: dom, anchor: anchor, range: [0, 100], tickvals: yTicks, ticktext: yTicks.map(String),
    ticks: 'inside', ticklen: 6, tickwidth: 1, tickcolor: '#000', showline: true, linecolor: '#000', linewidth: 1.5,
    mirror: 'ticks', showgrid: false, zeroline: false, automargin: false, ticklabelstandoff: 9,
    tickfont: {family: FONT, size: 21, color: '#000'},
    title: {text: yLabel, font: {family: FONT, size: 21, color: '#000'}, standoff: 26}};
}

const layout = {
  width: 1344, height: 525,
  margin: {l: 0, r: 0, t: 0, b: 0},
  paper_bgcolor: '#fff', plot_bgcolor: '#fff',
  font: {family: FONT, color: '#000'},
  xaxis: xax([0.0781, 0.4717], 'y'),
  yaxis: yax([0.2267, 0.8914], 'x'),
  xaxis2: xax([0.5885, 0.9792], 'y2'),
  yaxis2: yax([0.2286, 0.8952], 'x2'),
  annotations: [
    {text: titleA, x: 0.2750, y: 0.9695, xref: 'paper', yref: 'paper', showarrow: false, xanchor: 'center', yanchor: 'middle', font: {family: FONT, size: 20, color: '#000'}},
    {text: titleB, x: 0.7838, y: 0.9695, xref: 'paper', yref: 'paper', showarrow: false, xanchor: 'center', yanchor: 'middle', font: {family: FONT, size: 20, color: '#000'}},
    {text: '(a)', x: 0.2753, y: 0.0248, xref: 'paper', yref: 'paper', showarrow: false, xanchor: 'center', yanchor: 'middle', font: {family: FONT, size: 21, color: '#000'}},
    {text: '(b)', x: 0.7850, y: 0.0248, xref: 'paper', yref: 'paper', showarrow: false, xanchor: 'center', yanchor: 'middle', font: {family: FONT, size: 21, color: '#000'}}
  ]
};

Plotly.newPlot('chart', data, layout, {staticPlot: true, displayModeBar: false});
</script></body></html>
